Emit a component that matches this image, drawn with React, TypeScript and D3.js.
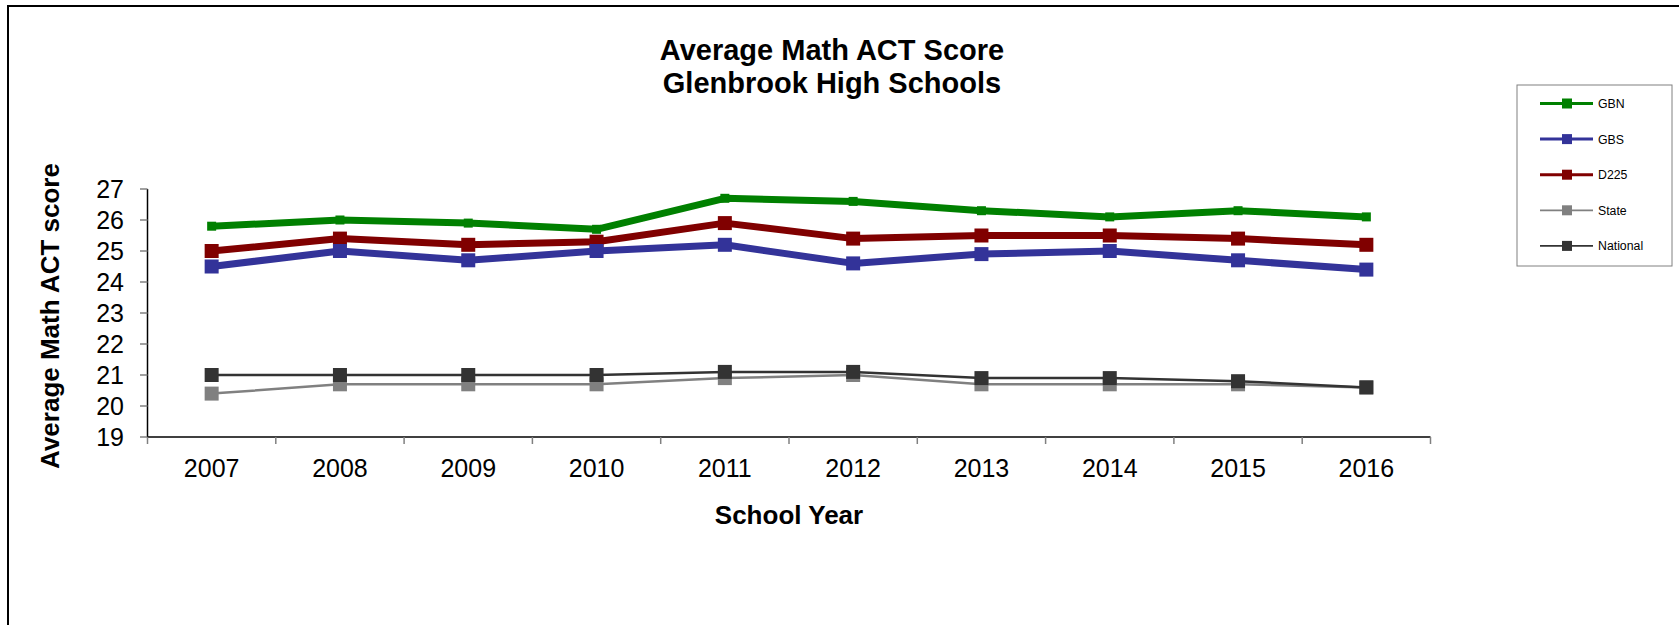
import { useEffect, useRef } from 'react';
import * as d3 from 'd3';

const years = ['2007', '2008', '2009', '2010', '2011', '2012', '2013', '2014', '2015', '2016'];
const gbn = [25.8, 26.0, 25.9, 25.7, 26.7, 26.6, 26.3, 26.1, 26.3, 26.1];
const gbs = [24.5, 25.0, 24.7, 25.0, 25.2, 24.6, 24.9, 25.0, 24.7, 24.4];
const d225 = [25.0, 25.4, 25.2, 25.3, 25.9, 25.4, 25.5, 25.5, 25.4, 25.2];
const stateScores = [20.4, 20.7, 20.7, 20.7, 20.9, 21.0, 20.7, 20.7, 20.7, 20.6];
const national = [21.0, 21.0, 21.0, 21.0, 21.1, 21.1, 20.9, 20.9, 20.8, 20.6];
const yTicks = [19, 20, 21, 22, 23, 24, 25, 26, 27];

interface Series {
  name: string;
  values: number[];
  color: string;
  width: number;
  marker: number;
}

// legend order
const series: Series[] = [
  { name: 'GBN', values: gbn, color: '#008000', width: 7, marker: 9 },
  { name: 'GBS', values: gbs, color: '#333399', width: 7, marker: 14 },
  { name: 'D225', values: d225, color: '#800000', width: 7, marker: 14 },
  { name: 'State', values: stateScores, color: '#808080', width: 2.5, marker: 14 },
  { name: 'National', values: national, color: '#333333', width: 2.5, marker: 14 },
];
// paint order
const drawOrder = ['State', 'National', 'GBN', 'D225', 'GBS'];

export default function App() {
  const svgRef = useRef<SVGSVGElement>(null);

  useEffect(() => {
    if (!svgRef.current) return;
    const width = 1679;
    const height = 625;
    const font = '"Liberation Sans", Arial, sans-serif';

    const svg = d3.select(svgRef.current)
      .attr('width', width)
      .attr('height', height)
      .style('font-family', font);
    svg.selectAll('*').remove();

    svg.append('rect').attr('width', width).attr('height', height).attr('fill', '#fff');

    // outer frame, cut by the page edges on the right and bottom
    svg.append('rect')
      .attr('x', 8).attr('y', 6)
      .attr('width', width + 20).attr('height', height + 20)
      .attr('fill', 'none').attr('stroke', '#000').attr('stroke-width', 2);

    const x = d3.scaleBand().domain(years).range([147.5, 1430.5]);
    const y = d3.scaleLinear().domain([19, 27]).range([437, 189]);

    // title
    const title = svg.append('text')
      .attr('x', 832).attr('text-anchor', 'middle')
      .attr('font-size', 29).attr('font-weight', 'bold').attr('fill', '#000');
    title.append('tspan').attr('x', 832).attr('y', 60).text('Average Math ACT Score');
    title.append('tspan').attr('x', 832).attr('y', 93).text('Glenbrook High Schools');

    // y axis
    const gy = svg.append('g');
    gy.append('line')
      .attr('x1', 147.5).attr('x2', 147.5).attr('y1', y(27)).attr('y2', y(19))
      .attr('stroke', '#000').attr('stroke-width', 1.5);
    gy.selectAll('.yt').data(yTicks).enter().append('line')
      .attr('x1', 140).attr('x2', 147.5)
      .attr('y1', d => y(d)).attr('y2', d => y(d))
      .attr('stroke', '#808080').attr('stroke-width', 1.5);
    gy.selectAll('.yl').data(yTicks).enter().append('text')
      .attr('x', 124).attr('y', d => y(d) + 9)
      .attr('text-anchor', 'end').attr('font-size', 25).attr('fill', '#000')
      .text(d => d);

    // x axis
    const gx = svg.append('g');
    gx.append('line')
      .attr('x1', 147.5).attr('x2', 1430.5).attr('y1', 437).attr('y2', 437)
      .attr('stroke', '#000').attr('stroke-width', 1.5);
    const edges = years.map(d => x(d) as number).concat([x.range()[1]]);
    gx.selectAll('.xt').data(edges).enter().append('line')
      .attr('x1', d => d).attr('x2', d => d).attr('y1', 437).attr('y2', 444)
      .attr('stroke', '#808080').attr('stroke-width', 1.5);
    gx.selectAll('.xl').data(years).enter().append('text')
      .attr('x', d => (x(d) as number) + x.bandwidth() / 2).attr('y', 477)
      .attr('text-anchor', 'middle').attr('font-size', 25).attr('fill', '#000')
      .text(d => d);

    // axis titles
    svg.append('text')
      .attr('x', 789).attr('y', 524).attr('text-anchor', 'middle')
      .attr('font-size', 26).attr('font-weight', 'bold').text('School Year');
    svg.append('text')
      .attr('transform', 'translate(59,316) rotate(-90)')
      .attr('text-anchor', 'middle')
      .attr('font-size', 26).attr('font-weight', 'bold').text('Average Math ACT score');

    // series
    const line = d3.line<number>()
      .x((_, i) => (x(years[i]) as number) + x.bandwidth() / 2)
      .y(d => y(d));

    drawOrder.forEach(name => {
      const s = series.find(v => v.name === name)!;
      const g = svg.append('g');
      g.append('path')
        .attr('d', line(s.values))
        .attr('fill', 'none')
        .attr('stroke', s.color)
        .attr('stroke-width', s.width)
        .attr('stroke-linejoin', 'round');
      g.selectAll('rect').data(s.values).enter().append('rect')
        .attr('x', (_, i) => (x(years[i]) as number) + x.bandwidth() / 2 - s.marker / 2)
        .attr('y', d => y(d) - s.marker / 2)
        .attr('width', s.marker).attr('height', s.marker)
        .attr('fill', s.color);
    });

    // legend
    const lg = svg.append('g');
    lg.append('rect')
      .attr('x', 1517).attr('y', 85).attr('width', 155).attr('height', 181)
      .attr('fill', '#fff').attr('stroke', '#808080').attr('stroke-width', 1);
    const rows = lg.selectAll('.row').data(series).enter().append('g')
      .attr('transform', (_, i) => `translate(0, ${103.5 + i * 35.6})`);
    rows.append('line')
      .attr('x1', 1540).attr('x2', 1593).attr('y1', 0).attr('y2', 0)
      .attr('stroke', d => d.color)
      .attr('stroke-width', d => d.width > 3 ? 3 : 1.7);
    rows.append('rect')
      .attr('x', 1562).attr('y', -5).attr('width', 10).attr('height', 10)
      .attr('fill', d => d.color);
    rows.append('text')
      .attr('x', 1598).attr('y', 4.5)
      .attr('font-size', 12.3).attr('fill', '#000')
      .text(d => d.name);
  }, []);

  return <svg ref={svgRef} style={{ position: 'absolute', left: 0, top: 0 }} />;
}
